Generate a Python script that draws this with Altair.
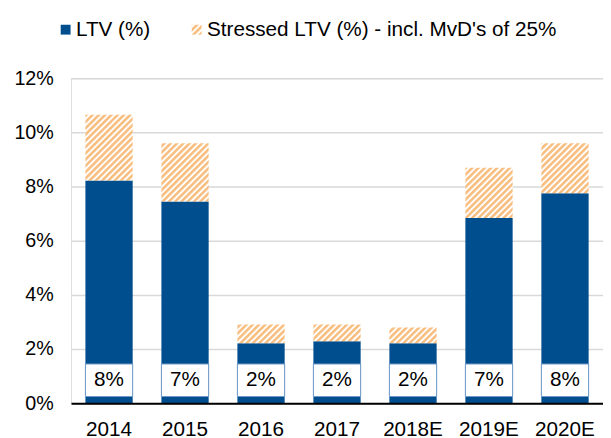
import altair as alt
import pandas as pd

# ---- data ----
categories = ["2014", "2015", "2016", "2017", "2018E", "2019E", "2020E"]
ltv = [8.22, 7.45, 2.22, 2.29, 2.22, 6.84, 7.75]
stressed_ltv = [10.65, 9.60, 2.91, 2.91, 2.80, 8.69, 9.60]
box_labels = ["8%", "7%", "2%", "2%", "2%", "7%", "8%"]
series_names = ["LTV (%)", "Stressed LTV (%) - incl. MvD's of 25%"]
y_ticks = [0, 2, 4, 6, 8, 10, 12]

rows = []
for c, a, b in zip(categories, ltv, stressed_ltv):
    rows.append({"year": c, "series": series_names[0], "start": 0.0, "end": a})
    rows.append({"year": c, "series": series_names[1], "start": a, "end": b})
bars_df = pd.DataFrame(rows)
labels_df = pd.DataFrame({"year": categories, "label": box_labels})

FONT = "Arial"
BLUE = "#004E8E"

TEMPLATE = """<!DOCTYPE html>
<html>
<head>
<meta charset="utf-8">
<style>
html, body { overflow: hidden; }
#{{ output_div }}.vega-embed { width: 100%; display: flex; }
</style>
<script type="text/javascript" src="{{ base_url }}/vega@{{ vega_version }}"></script>
<script type="text/javascript" src="{{ base_url }}/vega-lite@{{ vegalite_version }}"></script>
<script type="text/javascript" src="{{ base_url }}/vega-embed@{{ vegaembed_version }}"></script>
</head>
<body>
<svg width="0" height="0" style="position:absolute">
<defs>
<pattern id="hatch" patternUnits="userSpaceOnUse" width="4.5" height="4.5" patternTransform="rotate(45)">
<rect x="0" y="0" width="4.5" height="4.5" fill="#ffffff"/>
<rect x="0" y="0" width="2.6" height="4.5" fill="#F8BE80"/>
</pattern>
</defs>
</svg>
<div id="{{ output_div }}"></div>
<script>
  (function(vegaEmbed) {
    var spec = {{ spec }};
    var embedOpt = {{ embed_options }};
    function showError(el, error){
      el.innerHTML = '<div style="color:red;"><p>JavaScript Error: ' + error.message + '</p></div>';
      throw error;
    }
    const el = document.getElementById('{{ output_div }}');
    vegaEmbed("#{{ output_div }}", spec, embedOpt).catch(error => showError(el, error));
  })(vegaEmbed);
</script>
</body>
</html>
"""


def build(hatch_fill):
    x_enc = alt.X(
        "year:N",
        sort=categories,
        scale=alt.Scale(paddingInner=0.378, paddingOuter=0.189),
        axis=alt.Axis(
            title=None, labelAngle=0, labelFontSize=21, labelColor="#000",
            labelPadding=16, domainColor="#000", domainWidth=2, ticks=False,
            zindex=1, labelFont=FONT,
        ),
    )
    y_scale = alt.Scale(domain=[0, 12], nice=False)

    bars = alt.Chart(bars_df).mark_bar().encode(
        x=x_enc,
        y=alt.Y(
            "start:Q",
            scale=y_scale,
            axis=alt.Axis(
                values=y_ticks, title=None, labelExpr="datum.value + '%'",
                labelFontSize=20, labelColor="#000", labelPadding=18,
                ticks=False, domain=False, gridColor="#D9D9D9", gridWidth=1.5,
                labelFont=FONT,
            ),
        ),
        y2="end:Q",
        color=alt.Color(
            "series:N",
            scale=alt.Scale(domain=series_names, range=[BLUE, hatch_fill]),
            legend=alt.Legend(
                title=None, orient="none", legendX=-16, legendY=-60,
                direction="horizontal", symbolType="square", symbolSize=100,
                labelFontSize=21, labelColor="#000", labelFont=FONT,
                columnPadding=36, labelOffset=0, symbolStrokeWidth=0,
                labelLimit=600,
            ),
        ),
        order=alt.Order("start:Q"),
    )

    boxes = alt.Chart(labels_df).mark_bar(
        color="#FFFFFF", stroke="#6E97C8", strokeWidth=1
    ).encode(
        x=x_enc,
        y=alt.datum(0.25, scale=y_scale),
        y2=alt.datum(1.45),
    )

    texts = alt.Chart(labels_df).mark_text(
        fontSize=21, color="#000", baseline="middle", align="center", font=FONT
    ).encode(
        x=x_enc,
        y=alt.datum(0.85, scale=y_scale),
        text="label:N",
    )

    return alt.layer(bars, boxes, texts).properties(
        width=540,
        height=330,
        padding={"left": 64, "top": 68, "right": 0, "bottom": 32},
        autosize=alt.AutoSizeParams(type="none"),
    ).configure_view(stroke=None).configure(font=FONT)


try:
    import jinja2
    tpl = jinja2.Template(TEMPLATE)
    chart = build("url(#hatch)")
    chart.save("out.html", embed_options={"renderer": "svg", "actions": False}, template=tpl)
except Exception:
    chart = build("#F9CB99")
    chart.save("out.html", embed_options={"renderer": "svg", "actions": False})
